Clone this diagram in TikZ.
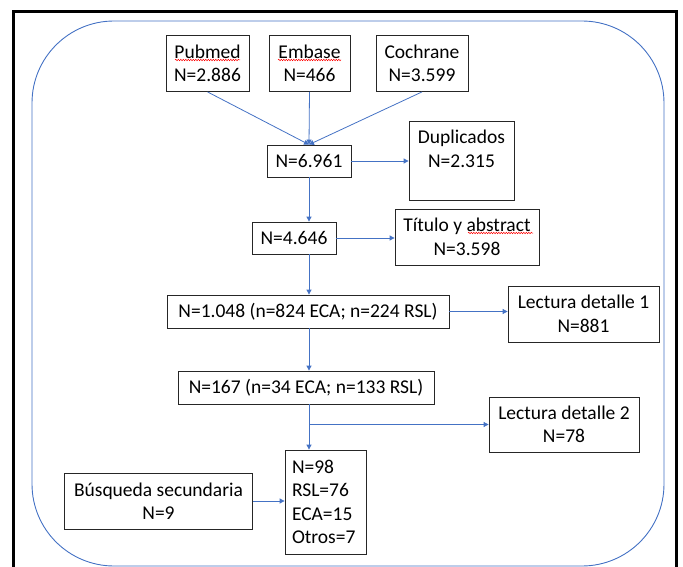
\documentclass[tikz,border=0pt]{standalone}
\usepackage{fontspec}
\setmainfont{Carlito}
\usetikzlibrary{arrows.meta,decorations.pathmorphing}
\definecolor{lineblue}{HTML}{4472C4}
\begin{document}
\begin{tikzpicture}[x=1pt,y=-1pt,
  box/.style={draw=black!85, line width=0.8pt, align=center, inner sep=0pt,
    font=\fontsize{19.5}{23.5}\selectfont},
  arr/.style={draw=lineblue, line width=0.8pt, -{Triangle[length=5pt,width=5pt]}},
  squig/.style={draw=red, line width=0.5pt, decorate,
    decoration={snake, amplitude=0.7pt, segment length=2.5pt}}]
\useasboundingbox (0,0) rectangle (683,567);
% frames
\draw[black, line width=3pt] (13.5,575) -- (13.5,11.5) -- (676.5,11.5) -- (676.5,575);
\draw[lineblue, line width=0.9pt, rounded corners=82pt] (32,21) rectangle (664,566);
% nodes
\node[box, minimum width=83pt, minimum height=56pt] (pub) at (207.5,63.5) {Pubmed\\N=2.886};
\node[box, minimum width=81pt, minimum height=56pt] (emb) at (309.5,63.5) {Embase\\N=466};
\node[box, minimum width=92pt, minimum height=56pt] (coc) at (422,63.5) {Cochrane\\N=3.599};
\node[box, minimum width=84pt, minimum height=32pt] (n1) at (309,161) {N=6.961};
\node[box, minimum width=105pt, minimum height=79pt] (dup) at (461.5,160.5) {Duplicados\\N=2.315\\\mbox{}};
\node[box, minimum width=84pt, minimum height=32pt] (n2) at (294,238) {N=4.646};
\node[box, minimum width=144pt, minimum height=56pt] (tit) at (467,237) {Título y abstract\\N=3.598};
\node[box, minimum width=282pt, minimum height=33pt] (n3) at (308,311.5) {N=1.048 (n=824 ECA; n=224 RSL)};
\node[box, minimum width=151pt, minimum height=56pt] (ld1) at (583.5,314) {Lectura detalle 1\\N=881};
\node[box, minimum width=256pt, minimum height=33pt] (n4) at (306,387.5) {N=167 (n=34 ECA; n=133 RSL)};
\node[box, minimum width=150pt, minimum height=55pt] (ld2) at (564,424.5) {Lectura detalle 2\\N=78};
\node[box, align=left, text width=67pt, inner xsep=7pt, minimum height=104pt] (n98) at (325.5,502) {N=98\\RSL=76\\ECA=15\\Otros=7};
\node[box, minimum width=188pt, minimum height=56pt] (bus) at (158.5,501) {Búsqueda secundaria\\N=9};
% spell-check marks
\draw[squig] (175,60) -- (240,60);
\draw[squig] (278,60) -- (341,60);
\draw[squig] (468,233) -- (533,233);
% connectors
\draw[arr] (pub.south) -- (n1.north);
\draw[arr] (emb.south) -- (n1.north);
\draw[arr] (coc.south) -- (n1.north);
\draw[arr] (n1.east) -- (dup.west |- n1.east);
\draw[arr] (n1.south) -- (n1.south |- n2.north);
\draw[arr] (n2.east) -- (tit.west |- n2.east);
\draw[arr] (n1.south |- n2.south) -- (n1.south |- n3.north);
\draw[arr] (n3.east) -- (ld1.west |- n3.east);
\draw[arr] (n1.south |- n3.south) -- (n1.south |- n4.north);
\draw[arr] (n1.south |- n4.south) -- (n1.south |- n98.north);
\coordinate (split) at (n1.south |- ld2.west);
\draw[arr] (split) -- (ld2.west);
\draw[arr] (bus.east) -- (n98.west |- bus.east);
\end{tikzpicture}
\end{document}
